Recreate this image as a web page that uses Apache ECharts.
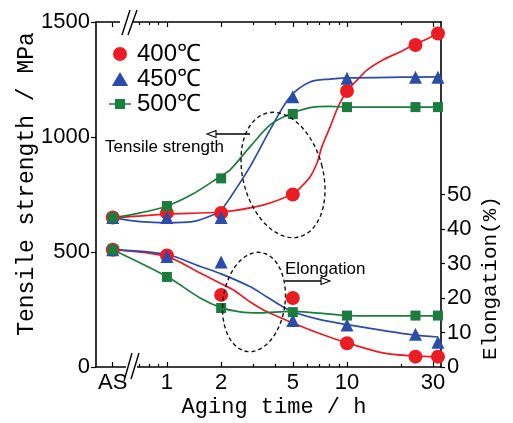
<!DOCTYPE html>
<html>
<head>
    <meta charset="utf-8" />
    <title>Aging time</title>
    <script src="https://cdn.jsdelivr.net/npm/echarts@6/dist/echarts.min.js"></script>
    <style>
        html, body { margin: 0; padding: 0; background: #fff; }
        #chart { width: 513px; height: 423px; }
    </style>
</head>
<body>
    <div id="chart"></div>
</body>
</html>
<script>
    // time axis is logarithmic, "AS" (as-solutionized) sits at the 0.5 h position
    var tickHours = [0.5, 1, 2, 5, 10, 30];
    var tickLabels = ['AS', '1', '2', '5', '10', '30'];
    var minorHours = [0.7, 0.8, 0.9, 3, 4, 6, 7, 8, 9, 20];
    var elongTicks = [0, 10, 20, 30, 40, 50];

    // measured points
    var sampleHours = [0.5, 1, 2, 5, 10, 24, 32];
    var ts400 = [650, 670, 670, 750, 1200, 1400, 1450];
    var ts450 = [650, 650, 650, 1175, 1255, 1260, 1260];
    var ts500 = [650, 700, 820, 1100, 1130, 1130, 1130];
    var el400 = [34, 32.3, 20.9, 20.0, 6.9, 3.0, 3.0];
    var el450 = [34, 32, 30.4, 13.5, 12.2, 9.5, 7.2];
    var el500 = [34, 26.1, 17.1, 15.9, 14.9, 14.9, 14.9];

    // fitted curves: [hours, value]
    var fitTs400 = [[0.5, 648], [1, 665], [2, 674], [3.41, 704], [5, 752], [5.48, 778], [6.23, 826], [6.81, 887],
        [7.25, 957], [8.05, 1043], [8.91, 1130], [10, 1200], [11.4, 1248], [12.9, 1291], [15.8, 1335],
        [19.7, 1370], [23.3, 1400], [27.8, 1426], [32, 1452]];
    var fitTs450 = [[0.5, 648], [0.71, 632], [1, 627], [1.39, 632], [1.8, 661], [2, 683], [2.24, 735],
        [2.89, 870], [3.73, 1030], [4.82, 1174], [6.23, 1239], [8.05, 1252], [10, 1257], [20, 1260], [32, 1261]];
    var fitTs500 = [[0.5, 648], [0.71, 670], [1, 700], [1.39, 752], [1.92, 822], [2.24, 857], [2.89, 957],
        [3.73, 1052], [4.82, 1100], [6.23, 1128], [8.05, 1133], [10, 1130], [20, 1130], [32, 1130]];
    var fitEl400 = [[0.5, 34], [1, 32], [1.52, 27.3], [2, 24.1], [2.33, 22.4], [2.89, 18.9], [3.59, 16],
        [5, 12.8], [6.8, 10], [10, 7.0], [15.8, 4.1], [23.3, 3.2], [32, 2.9]];
    var fitEl450 = [[0.5, 34], [1, 32.6], [1.52, 29.2], [2, 27], [2.89, 23.3], [3.59, 20.3], [4.82, 16.4],
        [7, 13.8], [10, 12.3], [23.3, 9.3], [32, 8.7]];
    var fitEl500 = [[0.5, 34], [1, 26.2], [1.52, 20.1], [2, 17.2], [2.54, 16.0], [3.28, 15.7], [4.82, 16.1],
        [7.08, 15.6], [10, 14.9], [23.3, 14.8], [32, 14.8]];

    var names = ['400℃', '450℃', '500℃'];
    var colors = ['#ec1c24', '#2b4ca8', '#1b7d3c'];
    var symbols = ['circle', 'triangle', 'rect'];
    var symbolSizes = [14, 13, 10];

    var lg = function (h) { return Math.log10(h); };
    var toXY = function (hours, vals) { return hours.map(function (h, i) { return [lg(h), vals[i]]; }); };
    var fitXY = function (pts) { return pts.map(function (p) { return [lg(p[0]), p[1]]; }); };

    var xMin = -0.394, xMax = 1.522;
    var labelFont = "'Liberation Sans', Arial, sans-serif";
    var monoFont = "'Liberation Mono', 'DejaVu Sans Mono', monospace";

    function ellipsePts(cx, cy, rx, ry, rotDeg) {
        var pts = [], a = rotDeg * Math.PI / 180;
        for (var i = 0; i < 72; i++) {
            var t = i / 72 * Math.PI * 2;
            var x = rx * Math.cos(t), y = ry * Math.sin(t);
            pts.push([cx + x * Math.cos(a) - y * Math.sin(a), cy + x * Math.sin(a) + y * Math.cos(a)]);
        }
        return pts;
    }

    function xAxisDef(pos, values, len, withLine) {
        return {
            type: 'value', position: pos, min: xMin, max: xMax,
            axisLine: { show: withLine, onZero: false, lineStyle: { color: '#000', width: 1.6 } },
            axisTick: { show: true, inside: true, length: len, customValues: values.map(lg), lineStyle: { color: '#000', width: 1.2 } },
            axisLabel: { show: false },
            splitLine: { show: false }
        };
    }

    var myChart = echarts.init(document.getElementById('chart'), null, { renderer: 'canvas' });

    var series = [];
    var fitsTs = [fitTs400, fitTs450, fitTs500];
    var fitsEl = [fitEl400, fitEl450, fitEl500];
    var tsVals = [ts400, ts450, ts500];
    var elVals = [el400, el450, el500];
    // curves first
    for (var i = 0; i < 3; i++) {
        series.push({
            name: 'fit' + names[i], type: 'line', smooth: 0.3, showSymbol: false, symbol: 'none',
            data: fitXY(fitsTs[i]), yAxisIndex: 0,
            lineStyle: { color: colors[i], width: 1.7 }, silent: true, z: 2
        });
        series.push({
            name: 'fitE' + names[i], type: 'line', smooth: 0.3, showSymbol: false, symbol: 'none',
            data: fitXY(fitsEl[i]), yAxisIndex: 1,
            lineStyle: { color: colors[i], width: 1.7 }, silent: true, z: 2
        });
    }
    // markers on top (green drawn last)
    for (var j = 0; j < 3; j++) {
        series.push({
            name: names[j], type: 'scatter', symbol: symbols[j], symbolSize: symbolSizes[j],
            data: toXY(sampleHours, tsVals[j]), yAxisIndex: 0,
            itemStyle: { color: colors[j], opacity: 1 }, z: 3 + j
        });
        series.push({
            name: names[j], type: 'scatter', symbol: symbols[j], symbolSize: symbolSizes[j],
            data: toXY(sampleHours, elVals[j]), yAxisIndex: 1,
            itemStyle: { color: colors[j], opacity: 1 }, z: 3 + j
        });
    }

    var dash = { fill: null, stroke: '#111', lineWidth: 1.4, lineDash: [4, 3] };

    var option = {
        animation: false,
        grid: { left: 96, right: 72, top: 22, bottom: 56, outerBoundsMode: 'none', containLabel: false },
        legend: {
            orient: 'vertical', left: 104, top: 37,
            itemWidth: 22, itemHeight: 14, itemGap: 1, symbolKeepAspect: true,
            selectedMode: false,
            textStyle: { fontSize: 24, fontFamily: labelFont, color: '#000', lineHeight: 22, padding: [0, 0, 0, 1] },
            data: [
                { name: names[0], icon: 'circle', itemStyle: { color: colors[0] } },
                { name: names[1], icon: 'path://M7,0L14,12H0Z', itemStyle: { color: colors[1] } },
                { name: names[2], icon: 'path://M0,4.2H6V0H16V4.2H22V5.8H16V10H6V5.8H0Z', itemStyle: { color: colors[2] } }
            ]
        },
        xAxis: [
            {
                type: 'value', position: 'bottom', min: xMin, max: xMax,
                axisLine: { show: true, onZero: false, lineStyle: { color: '#000', width: 1.6 } },
                axisTick: { show: true, inside: true, length: 5, customValues: tickHours.map(lg), lineStyle: { color: '#000', width: 1.2 } },
                axisLabel: {
                    show: true, margin: 5, customValues: tickHours.map(lg),
                    fontSize: 22, fontFamily: labelFont, color: '#000',
                    formatter: function (v) {
                        for (var k = 0; k < tickHours.length; k++) {
                            if (Math.abs(lg(tickHours[k]) - v) < 1e-6) return tickLabels[k];
                        }
                        return '';
                    }
                },
                splitLine: { show: false }
            },
            xAxisDef('bottom', minorHours, 3, false),
            xAxisDef('top', tickHours, 5, true),
            xAxisDef('top', minorHours, 3, false)
        ],
        yAxis: [
            {
                type: 'value', position: 'left', min: 0, max: 1500, interval: 500,
                axisLine: { show: true, onZero: false, lineStyle: { color: '#000', width: 1.6 } },
                axisTick: { show: true, inside: false, length: 5, lineStyle: { color: '#000', width: 1.2 } },
                axisLabel: { margin: 6, fontSize: 22, fontFamily: labelFont, color: '#000', formatter: function (v) { return String(v); } },
                splitLine: { show: false }
            },
            {
                type: 'value', position: 'right', min: 0, max: 100, interval: 10,
                axisLine: { show: true, onZero: false, lineStyle: { color: '#000', width: 1.6 } },
                axisTick: { show: true, inside: false, length: 4, customValues: elongTicks, lineStyle: { color: '#000', width: 1.2 } },
                axisLabel: { margin: 6, customValues: elongTicks, fontSize: 22, fontFamily: labelFont, color: '#000', formatter: function (v) { return String(v); } },
                splitLine: { show: false }
            }
        ],
        graphic: [
            // axis break marks
            { type: 'rect', shape: { x: 126, y: 363, width: 11, height: 7 }, style: { fill: '#fff' }, z: 100 },
            { type: 'line', shape: { x1: 124, y1: 381, x2: 132, y2: 353 }, style: { stroke: '#000', lineWidth: 1.4 }, z: 101 },
            { type: 'line', shape: { x1: 131, y1: 379, x2: 139, y2: 353 }, style: { stroke: '#000', lineWidth: 1.4 }, z: 101 },
            { type: 'rect', shape: { x: 120, y: 19, width: 12, height: 7 }, style: { fill: '#fff' }, z: 100 },
            { type: 'line', shape: { x1: 122, y1: 35, x2: 130, y2: 10 }, style: { stroke: '#000', lineWidth: 1.4 }, z: 101 },
            { type: 'line', shape: { x1: 128, y1: 35, x2: 137, y2: 10 }, style: { stroke: '#000', lineWidth: 1.4 }, z: 101 },
            // dashed ellipses
            { type: 'polygon', shape: { points: ellipsePts(283, 175, 40, 64, -15) }, style: dash, z: 50 },
            { type: 'polygon', shape: { points: ellipsePts(254, 302, 31, 50, 8) }, style: dash, z: 50 },
            // arrows
            { type: 'line', shape: { x1: 250, y1: 134, x2: 214, y2: 134 }, style: { stroke: '#000', lineWidth: 1.3 }, z: 60 },
            { type: 'polygon', shape: { points: [[207, 134], [216, 130.5], [216, 137.5]] }, style: { fill: '#fff', stroke: '#000', lineWidth: 1.1 }, z: 61 },
            { type: 'line', shape: { x1: 285, y1: 281, x2: 322, y2: 281 }, style: { stroke: '#000', lineWidth: 1.3 }, z: 60 },
            { type: 'polygon', shape: { points: [[330, 281], [321, 277.5], [321, 284.5]] }, style: { fill: '#fff', stroke: '#000', lineWidth: 1.1 }, z: 61 },
            // annotations
            { type: 'text', x: 105, y: 147, style: { text: 'Tensile strength', font: "17px 'Liberation Sans', Arial, sans-serif", fill: '#000', textVerticalAlign: 'middle' }, z: 60 },
            { type: 'text', x: 285, y: 269, style: { text: 'Elongation', font: "17px 'Liberation Sans', Arial, sans-serif", fill: '#000', textVerticalAlign: 'middle' }, z: 60 },
            // axis titles
            { type: 'text', x: 27, y: 184, rotation: Math.PI / 2, style: { text: 'Tensile strength / MPa', font: '23px ' + monoFont, fill: '#000', textAlign: 'center', textVerticalAlign: 'middle' } },
            { type: 'text', x: 274, y: 407, style: { text: 'Aging time / h', font: '22px ' + monoFont, fill: '#000', textAlign: 'center', textVerticalAlign: 'middle' } },
            { type: 'text', x: 490, y: 278, rotation: Math.PI / 2, style: { text: 'Elongation(%)', font: '21px ' + monoFont, fill: '#000', textAlign: 'center', textVerticalAlign: 'middle' } }
        ],
        series: series
    };

    myChart.setOption(option);
</script>
